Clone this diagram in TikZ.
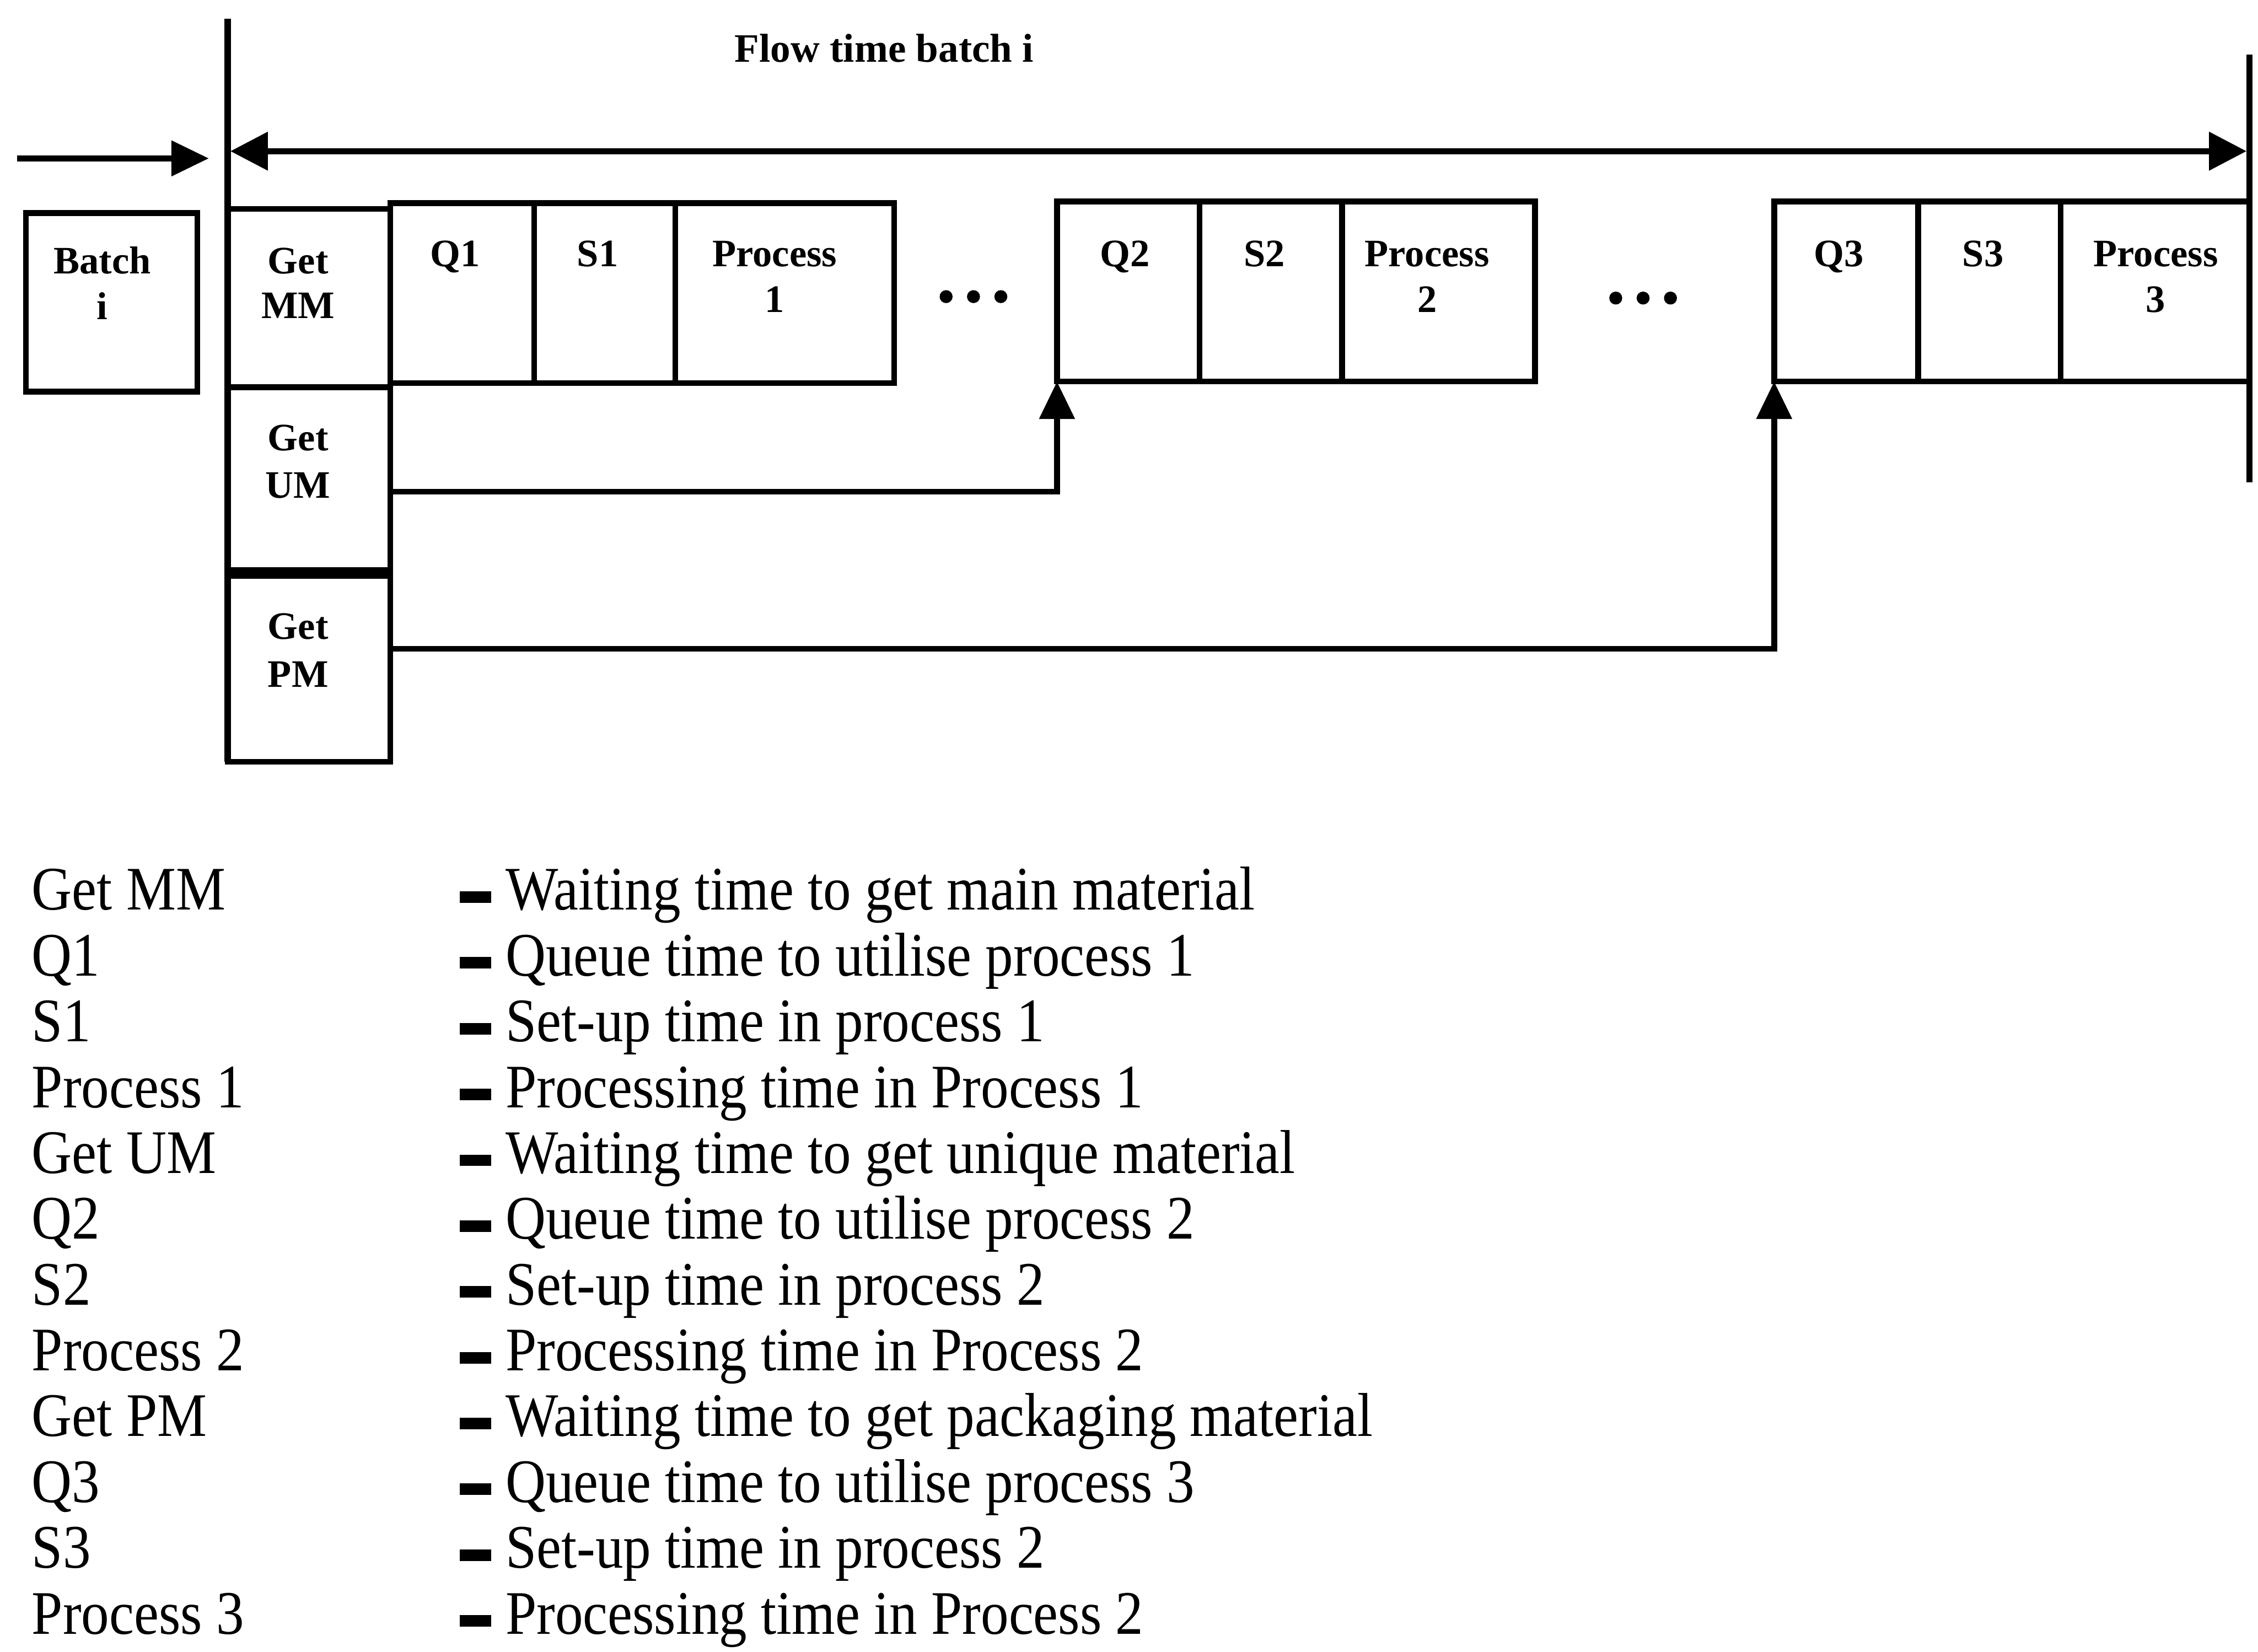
\documentclass[tikz,border=0pt]{standalone}
\usepackage{fontspec}
\setmainfont{Liberation Serif}
\newfontfamily\legfont[FakeStretch=0.90]{Liberation Serif}
\usetikzlibrary{arrows.meta,calc}
\newcommand\dashbar{\rule[5pt]{22pt}{8pt}\hspace{10pt}}
\begin{document}
\begin{tikzpicture}[x=1pt,y=-1pt,
  cell/.style={draw,line width=4pt,anchor=north west,inner sep=0pt,outer sep=0pt},
  lab/.style={anchor=base,inner sep=0pt,font=\fontsize{27}{30}\selectfont\bfseries},
  ttl/.style={anchor=base,inner sep=0pt,font=\fontsize{28}{30}\selectfont\bfseries},
  leg/.style={anchor=base west,inner sep=0pt,font=\legfont\fontsize{43}{46}\selectfont},
  conn/.style={line width=4pt,-{Triangle[length=26pt,width=24pt]}},
  dbl/.style={line width=4pt,{Triangle[length=26pt,width=26pt]}-{Triangle[length=26pt,width=26pt]}},
  axisline/.style={line width=4.5pt},
  dot/.style={circle,fill,inner sep=0pt,minimum size=9pt}]
\useasboundingbox (0,0) rectangle (1568,1147);

% boxes
\node[cell,minimum width=119pt,minimum height=124pt] (batch) at (18,148) {};
\node[cell,minimum width=113pt,minimum height=124pt] (getmm) at (158,145) {};
\node[cell,minimum width=100pt,minimum height=125pt] (q1) at (271,141) {};
\node[cell,minimum width=98pt,minimum height=125pt] (s1) at (371,141) {};
\node[cell,minimum width=152pt,minimum height=125pt] (p1) at (469,141) {};
\node[cell,minimum width=99pt,minimum height=125pt] (q2) at (734,140) {};
\node[cell,minimum width=99pt,minimum height=125pt] (s2) at (833,140) {};
\node[cell,minimum width=134pt,minimum height=125pt] (p2) at (932,140) {};
\node[cell,minimum width=100pt,minimum height=125pt] (q3) at (1232,140) {};
\node[cell,minimum width=99pt,minimum height=125pt] (s3) at (1332,140) {};
\node[cell,minimum width=131pt,minimum height=125pt] (p3) at (1431,140) {};
\node[cell,minimum width=113pt,minimum height=127pt] (getum) at (158,269) {};
\node[cell,minimum width=113pt,minimum height=129pt] (getpm) at (158,400) {};

% box labels
\node[lab] (batchta) at (71,190) {Batch};
\node[lab] (batchtb) at (71,222) {i};
\node[lab] (getmmta) at (207,190) {Get};
\node[lab] (getmmtb) at (207,221) {MM};
\node[lab] (q1t) at (316,185) {Q1};
\node[lab] (s1t) at (415,185) {S1};
\node[lab] (p1ta) at (538,185) {Process};
\node[lab] (p1tb) at (538,217) {1};
\node[lab] (q2t) at (781,185) {Q2};
\node[lab] (s2t) at (878,185) {S2};
\node[lab] (p2ta) at (991,185) {Process};
\node[lab] (p2tb) at (991,217) {2};
\node[lab] (q3t) at (1277,185) {Q3};
\node[lab] (s3t) at (1377,185) {S3};
\node[lab] (p3ta) at (1497,185) {Process};
\node[lab] (p3tb) at (1497,217) {3};
\node[lab] (getumta) at (207,313) {Get};
\node[lab] (getumtb) at (207,346) {UM};
\node[lab] (getpmta) at (207,444) {Get};
\node[lab] (getpmtb) at (207,477) {PM};

% title
\node[ttl] (title) at (614,43) {Flow time batch i};

% vertical boundary lines
\coordinate (ltop) at (158,13);
\coordinate (rtop) at (1562,38);
\coordinate (rbot) at (1562,335);
\draw[axisline] (ltop) -- (getpm.south west);
\draw[axisline] (rtop) -- (rbot);

% flow time double arrow
\coordinate (dl) at (160,105);
\coordinate (dr) at (1560,105);
\draw[dbl] (dl) -- (dr);

% incoming batch arrow
\coordinate (bstart) at (12,110);
\coordinate (bend) at (145,110);
\draw[conn] (bstart) -- (bend);

% material connectors
\draw[conn] ($(getum.east)+(0,9)$) -| (q2.south west);
\draw[conn] ($(getpm.east)+(0,-14)$) -| (q3.south west);

% ellipsis dots
\node[dot] (d1) at (657,206) {};
\node[dot] (d2) at (676,206) {};
\node[dot] (d3) at (695,206) {};
\node[dot] (d4) at (1122,207) {};
\node[dot] (d5) at (1141,207) {};
\node[dot] (d6) at (1160,207) {};

% legend
\node[leg] (la1) at (22,632) {Get MM};
\node[leg] (la2) at (22,677.7) {Q1};
\node[leg] (la3) at (22,723.4) {S1};
\node[leg] (la4) at (22,769.1) {Process 1};
\node[leg] (la5) at (22,814.8) {Get UM};
\node[leg] (la6) at (22,860.5) {Q2};
\node[leg] (la7) at (22,906.2) {S2};
\node[leg] (la8) at (22,951.9) {Process 2};
\node[leg] (la9) at (22,997.6) {Get PM};
\node[leg] (la10) at (22,1043.3) {Q3};
\node[leg] (la11) at (22,1089) {S3};
\node[leg] (la12) at (22,1134.7) {Process 3};

\node[leg] (lb1) at (319,632) {\dashbar Waiting time to get main material};
\node[leg] (lb2) at (319,677.7) {\dashbar Queue time to utilise process 1};
\node[leg] (lb3) at (319,723.4) {\dashbar Set-up time in process 1};
\node[leg] (lb4) at (319,769.1) {\dashbar Processing time in Process 1};
\node[leg] (lb5) at (319,814.8) {\dashbar Waiting time to get unique material};
\node[leg] (lb6) at (319,860.5) {\dashbar Queue time to utilise process 2};
\node[leg] (lb7) at (319,906.2) {\dashbar Set-up time in process 2};
\node[leg] (lb8) at (319,951.9) {\dashbar Processing time in Process 2};
\node[leg] (lb9) at (319,997.6) {\dashbar Waiting time to get packaging material};
\node[leg] (lb10) at (319,1043.3) {\dashbar Queue time to utilise process 3};
\node[leg] (lb11) at (319,1089) {\dashbar Set-up time in process 2};
\node[leg] (lb12) at (319,1134.7) {\dashbar Processing time in Process 2};
\end{tikzpicture}
\end{document}
